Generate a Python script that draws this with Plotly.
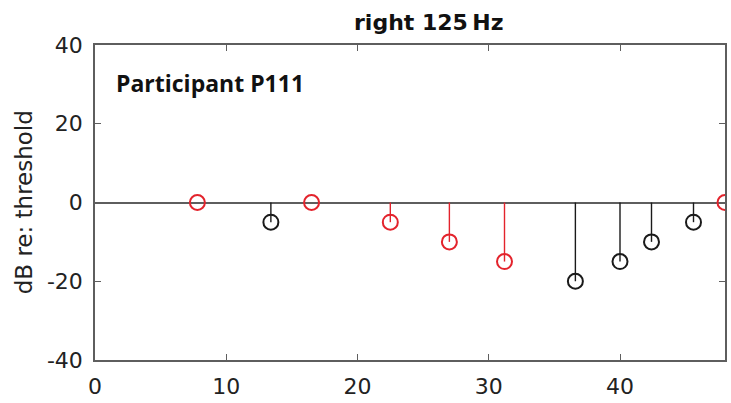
import plotly.graph_objects as go

# Stem data: trial position vs level re: threshold
red_x = [7.8, 16.5, 22.5, 27.0, 31.2, 48.0]
red_y = [0, 0, -5, -10, -15, 0]
black_x = [13.4, 36.6, 40.0, 42.4, 45.6]
black_y = [-5, -20, -15, -10, -5]

x_ticks = [0, 10, 20, 30, 40]
y_ticks = [-40, -20, 0, 20, 40]
y_tick_text = ["-40", "-20", "0", "20", "40"]

RED = "#e3232c"
BLACK = "#1a1a1a"
AXIS = "#5e5e5e"
FONT = "DejaVu Sans"


def stems(xs, ys):
    sx, sy = [], []
    for x, y in zip(xs, ys):
        sx += [x, x, None]
        sy += [0, y, None]
    return sx, sy


fig = go.Figure()
for xs, ys, col in [(red_x, red_y, RED), (black_x, black_y, BLACK)]:
    sx, sy = stems(xs, ys)
    fig.add_trace(go.Scatter(x=sx, y=sy, mode="lines",
                             line=dict(color=col, width=1.4),
                             hoverinfo="skip", showlegend=False))
    fig.add_trace(go.Scatter(x=xs, y=ys, mode="markers",
                             marker=dict(symbol="circle-open", size=15,
                                         color=col, line=dict(width=2, color=col)),
                             showlegend=False))

axis_common = dict(showline=True, mirror="ticks", linecolor=AXIS, linewidth=1.5,
                   ticks="inside", ticklen=6, tickwidth=1.2, tickcolor=AXIS,
                   showgrid=False,
                   tickfont=dict(family=FONT, size=22, color="#222"))

fig.update_xaxes(range=[0, 48], tickvals=x_ticks, zeroline=False,
                 ticklabelstandoff=6, **axis_common)
fig.update_yaxes(range=[-40, 40], tickvals=y_ticks, ticktext=y_tick_text,
                 zeroline=True, zerolinecolor=AXIS, zerolinewidth=1.5,
                 ticklabelstandoff=6, **axis_common)

fig.add_annotation(text="<b>right 125\u2009Hz</b>", xref="paper", yref="paper",
                   x=0.53, y=1.0, xanchor="center", yanchor="bottom", yshift=8,
                   showarrow=False,
                   font=dict(family=FONT, size=22, color="#111"))
fig.add_annotation(text="<b>Participant P111</b>", xref="paper", yref="y",
                   x=0.03, y=30.3, xanchor="left", yanchor="middle", showarrow=False,
                   font=dict(family="Open Sans", size=23, color="#111"))
fig.add_annotation(text="dB re: threshold", xref="paper", yref="paper",
                   x=-0.113, y=0.5, xanchor="center", yanchor="middle",
                   textangle=-90, showarrow=False,
                   font=dict(family=FONT, size=23, color="#222"))

fig.update_layout(width=731, height=403,
                  margin=dict(l=95, r=4, t=45, b=41),
                  paper_bgcolor="white", plot_bgcolor="white")

fig.write_html("out.html")
